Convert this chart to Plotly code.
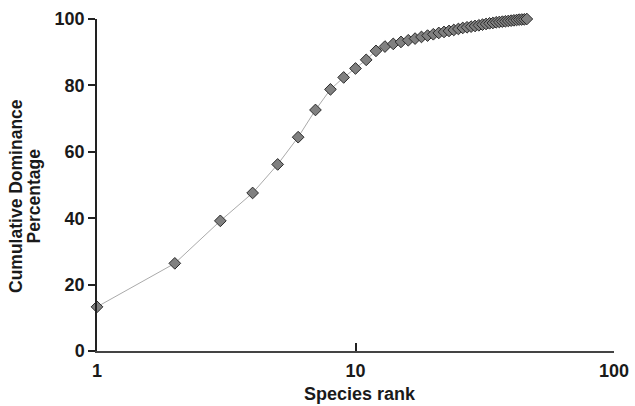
import plotly.graph_objects as go

rank = list(range(1, 47))
cum_pct = [13.3, 26.4, 39.2, 47.6, 56.2, 64.4, 72.6, 78.8, 82.4, 85.1,
           87.7, 90.4, 91.7, 92.5, 93.1, 93.6, 94.1, 94.6, 95.0, 95.4,
           95.8, 96.1, 96.4, 96.7, 97.0, 97.3, 97.5, 97.7, 97.9, 98.1,
           98.3, 98.5, 98.7, 98.8, 99.0, 99.1, 99.2, 99.3, 99.4, 99.5,
           99.6, 99.7, 99.8, 99.85, 99.9, 100.0]
x_ticks = [1, 10, 100]
y_ticks = [0, 20, 40, 60, 80, 100]
x_title = "Species rank"
y_title_lines = ["Cumulative Dominance", "Percentage"]

FONT = "Liberation Sans, Arial, sans-serif"
tickfont = dict(family=FONT, size=18, color="#1a1a1a", weight="bold")

fig = go.Figure()
fig.add_trace(go.Scatter(
    x=rank, y=cum_pct, mode="lines+markers",
    line=dict(color="#aaaaaa", width=1),
    marker=dict(symbol="diamond", size=9, color="#808080",
                line=dict(color="#2a2a2a", width=1)),
    cliponaxis=False, showlegend=False,
))

axis_common = dict(showgrid=False, zeroline=False, automargin=False)
fig.update_layout(
    width=635, height=406,
    margin=dict(l=97, r=21, t=19, b=55),
    paper_bgcolor="white", plot_bgcolor="white",
    xaxis=dict(type="log", range=[0, 2], tickvals=x_ticks,
               ticktext=[str(v) for v in x_ticks],
               ticks="inside", ticklen=8, tickwidth=1.5, tickcolor="#222",
               showline=True, linecolor="#444", linewidth=2,
               ticklabelstandoff=2,
               tickfont=tickfont, **axis_common),
    yaxis=dict(range=[0, 100], tickvals=y_ticks,
               ticks="outside", ticklen=7, tickwidth=1.5, tickcolor="#222",
               showline=True, linecolor="#222", linewidth=1.5,
               tickfont=tickfont, **axis_common),
    xaxis2=dict(type="log", range=[0, 2], tickvals=x_ticks, overlaying="x",
                anchor="y", side="bottom", ticks="outside", ticklen=8,
                tickwidth=1.5, tickcolor="#222", showticklabels=False,
                showline=False, **axis_common),
    yaxis2=dict(range=[0, 100], tickvals=y_ticks, overlaying="y",
                anchor="x", side="left", ticks="inside", ticklen=7,
                tickwidth=1.5, tickcolor="#222", showticklabels=False,
                showline=False, **axis_common),
)

fig.add_annotation(
    text=x_title, xref="paper", yref="paper", x=0.509, y=0,
    yshift=-43, xanchor="center", yanchor="middle", showarrow=False,
    font=dict(family=FONT, size=18, color="#1a1a1a", weight="bold"),
)
for i, line in enumerate(y_title_lines):
    fig.add_annotation(
        text=line, xref="paper", yref="paper", x=0, y=0.467,
        xshift=-81 + 17.5 * i, xanchor="center", yanchor="middle",
        textangle=-90, showarrow=False,
        font=dict(family=FONT, size=17.5, color="#1a1a1a", weight="bold"),
    )

fig.write_html("out.html", config={"displayModeBar": False},
               post_script="document.body.style.margin='0';")
